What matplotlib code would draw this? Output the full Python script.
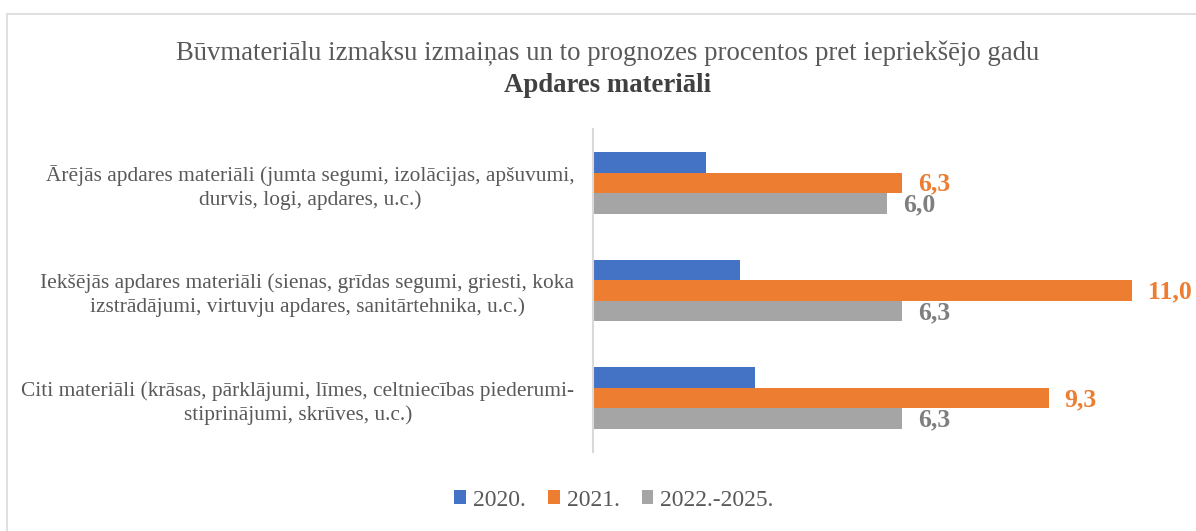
import matplotlib
matplotlib.use("Agg")
import matplotlib.pyplot as plt
import numpy as np
from matplotlib.patches import Rectangle

categories = [
    "Ārējās apdares materiāli (jumta segumi, izolācijas, apšuvumi,\ndurvis, logi, apdares, u.c.)",
    "Iekšējās apdares materiāli (sienas, grīdas segumi, griesti, koka\nizstrādājumi, virtuvju apdares, sanitārtehnika, u.c.)",
    "Citi materiāli (krāsas, pārklājumi, līmes, celtniecības piederumi-\nstiprinājumi, skrūves, u.c.)",
]
series_names = ["2020.", "2021.", "2022.-2025."]
values_2020 = [2.3, 3.0, 3.3]
values_2021 = [6.3, 11.0, 9.3]
values_2022_2025 = [6.0, 6.3, 6.3]
colors = ["#4472C4", "#ED7D31", "#A5A5A5"]
label_colors = [None, "#ED7D31", "#7F7F7F"]

W, H = 1196, 531
fig = plt.figure(figsize=(W / 100, H / 100), dpi=100)
plt.rcParams['font.family'] = ['Liberation Serif', 'DejaVu Serif']

# outer border
fig.patches.append(Rectangle((7 / W, 0 - 0.05), 1.2, 1 - 14 / H + 0.05,
                             transform=fig.transFigure, fill=False,
                             edgecolor="#D9D9D9", linewidth=1.2))

left, right, top, bottom = 593, 1150, 129, 452
ax = fig.add_axes([left / W, 1 - bottom / H, (right - left) / W, (bottom - top) / H])

all_series = [values_2020, values_2021, values_2022_2025]
y = np.arange(len(categories))
bh = 0.19
for i, (vals, name, c) in enumerate(zip(all_series, series_names, colors)):
    pos = y + (i - 1) * bh
    ax.barh(pos, vals, height=bh, color=c, label=name)
    if label_colors[i]:
        for v, p in zip(vals, pos):
            ax.annotate(f"{v:.1f}".replace(".", ","), xy=(v, p), xytext=(11.5, -1),
                        textcoords="offset points", ha="left", va="center",
                        fontsize=18.5, fontweight="bold", color=label_colors[i])

ax.set_xlim(0, (right - left) / 49)
ax.set_ylim(len(categories) - 0.5, -0.5)
ax.set_yticks(y)
ax.set_yticklabels(categories, fontsize=15.4, color="#595959", multialignment="center",
                   linespacing=1.3)
ax.tick_params(axis="y", length=0, pad=13.5)
ax.set_xticks([])
for s in ["top", "right", "bottom"]:
    ax.spines[s].set_visible(False)
ax.spines["left"].set_color("#D9D9D9")
ax.spines["left"].set_linewidth(1.5)

fig.text(608 / W, 1 - 53 / H, "Būvmateriālu izmaksu izmaiņas un to prognozes procentos pret iepriekšējo gadu",
         ha="center", va="center", fontsize=19.3, color="#595959")
fig.text(608 / W, 1 - 85 / H, "Apdares materiāli", ha="center", va="center",
         fontsize=19.3, fontweight="bold", color="#404040")

leg = fig.legend(loc="center", bbox_to_anchor=(614 / W, 1 - 500 / H), ncol=3, frameon=False,
                 fontsize=17, handlelength=0.5, handleheight=0.5, handletextpad=0.3,
                 columnspacing=0.93, labelcolor="#595959")

fig.savefig("out.png", dpi=100)
